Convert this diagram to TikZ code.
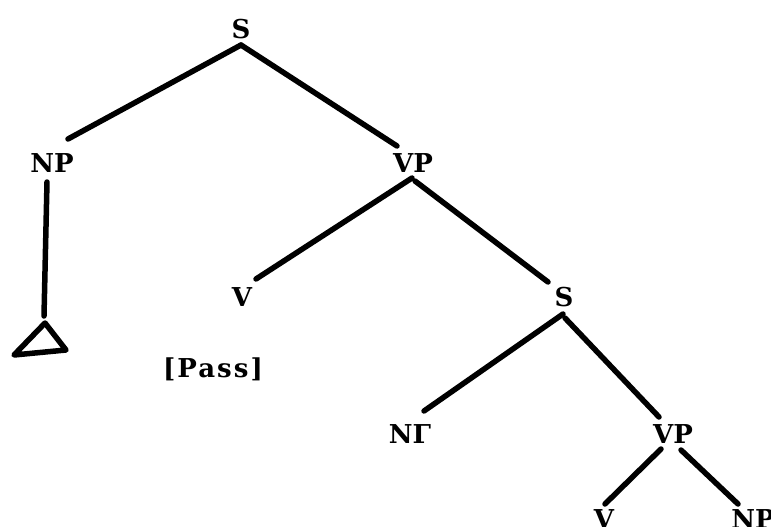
\documentclass[tikz,border=0pt]{standalone}
\usepackage{fontspec}
\setmainfont{DejaVu Serif}
\newfontfamily\passfont[LetterSpace=8]{DejaVu Serif}
\usetikzlibrary{calc}
\begin{document}
\begin{tikzpicture}[x=1pt,y=-1pt,
  lab/.style={font=\fontsize{26}{26}\selectfont\bfseries, inner sep=0pt},
  edge/.style={line width=5.5pt, line cap=round, line join=round}]
\useasboundingbox (0,0) rectangle (771,527);
\node[lab] (S1) at (241,29) {S};
\node[lab] (NP1) at (52,163) {NP};
\node[lab] (VP1) at (413,163) {VP};
\node[lab] (V1) at (242,297) {V};
\node[lab] (S2) at (564,297) {S};
\node[lab,font=\fontsize{26}{26}\selectfont\passfont\bfseries] (Pass) at (213,369) {[Pass]};
\node[lab] (NG) at (410,434) {NΓ};
\node[lab] (VP2) at (673,434) {VP};
\node[lab] (V3) at (604,519) {V};
\node[lab] (NP3) at (753,519) {NP};
\coordinate (tri) at (45,323);
% connectors
\draw[edge] ($(S1)+(0,16)$) -- ($(NP1)+(16,-24)$);
\draw[edge] ($(S1)+(0,16)$) -- ($(VP1)+(-16,-17)$);
\draw[edge] ($(NP1)+(-5,19)$) -- ($(tri)+(-1,-7)$);
\draw[edge] ($(VP1)+(-1,15)$) -- ($(V1)+(14,-18)$);
\draw[edge] ($(VP1)+(2,18)$) -- ($(S2)+(-16,-15)$);
\draw[edge] ($(S2)+(-1,17)$) -- ($(NG)+(14,-23)$);
\draw[edge] ($(S2)+(1,21)$) -- ($(VP2)+(-14,-17)$);
\draw[edge] ($(VP2)+(-12,15)$) -- ($(V3)+(1,-15)$);
\draw[edge] ($(VP2)+(8,16)$) -- ($(NP3)+(-15,-15)$);
% triangle
\draw[edge] (tri) -- ++(-31,32) -- ++(52,-5) -- cycle;
\end{tikzpicture}
\end{document}
